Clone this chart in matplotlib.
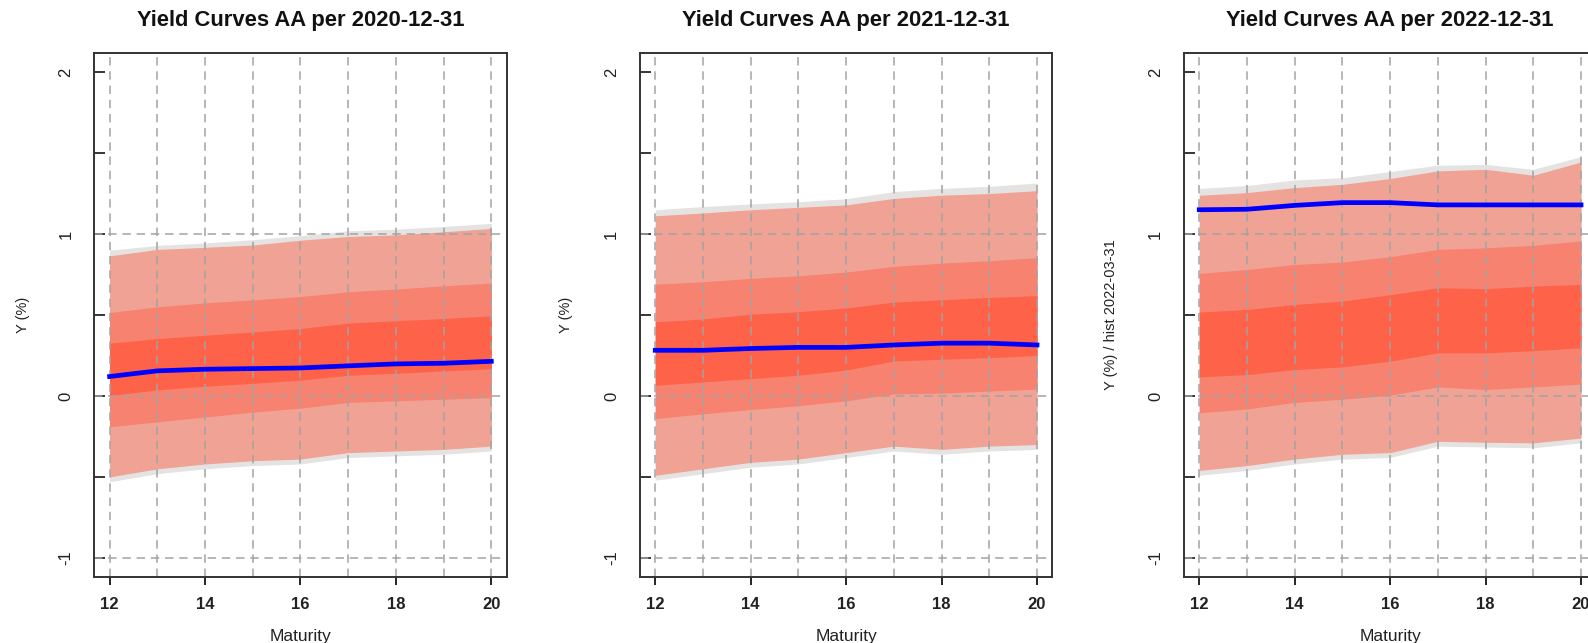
import matplotlib
matplotlib.use("Agg")
import matplotlib.pyplot as plt

plt.rcParams['font.family'] = ['Liberation Sans', 'DejaVu Sans']

maturity = [12, 13, 14, 15, 16, 17, 18, 19, 20]
dates = ["2020-12-31", "2021-12-31", "2022-12-31"]
ylabels = ["Y (%)", "Y (%)", "Y (%) / hist 2022-03-31"]

# Panel 1 (2020-12-31)
p1_gray_hi = [0.90, 0.93, 0.945, 0.965, 0.99, 1.02, 1.03, 1.047, 1.066]
p1_light_hi = [0.865, 0.905, 0.918, 0.932, 0.962, 0.985, 0.995, 1.014, 1.035]
p1_med_hi = [0.515, 0.55, 0.575, 0.593, 0.614, 0.643, 0.66, 0.68, 0.697]
p1_dark_hi = [0.326, 0.354, 0.375, 0.395, 0.416, 0.45, 0.464, 0.478, 0.495]
p1_median = [0.12, 0.155, 0.165, 0.169, 0.173, 0.186, 0.198, 0.202, 0.214]
p1_dark_lo = [0.002, 0.038, 0.06, 0.078, 0.098, 0.128, 0.14, 0.155, 0.169]
p1_med_lo = [-0.19, -0.16, -0.13, -0.10, -0.075, -0.04, -0.03, -0.02, -0.01]
p1_light_lo = [-0.50, -0.45, -0.42, -0.40, -0.39, -0.35, -0.34, -0.33, -0.31]
p1_gray_lo = [-0.53, -0.48, -0.45, -0.43, -0.42, -0.38, -0.37, -0.36, -0.34]

# Panel 2 (2021-12-31)
p2_gray_hi = [1.15, 1.17, 1.186, 1.2, 1.218, 1.262, 1.282, 1.295, 1.315]
p2_light_hi = [1.113, 1.13, 1.15, 1.165, 1.18, 1.22, 1.24, 1.25, 1.268]
p2_med_hi = [0.69, 0.705, 0.726, 0.742, 0.765, 0.8, 0.82, 0.835, 0.854]
p2_dark_hi = [0.458, 0.475, 0.505, 0.52, 0.543, 0.58, 0.594, 0.608, 0.619]
p2_median = [0.282, 0.282, 0.293, 0.3, 0.3, 0.315, 0.326, 0.326, 0.315]
p2_dark_lo = [0.066, 0.087, 0.107, 0.128, 0.16, 0.216, 0.227, 0.237, 0.25]
p2_med_lo = [-0.14, -0.11, -0.084, -0.06, -0.03, 0.013, 0.018, 0.03, 0.043]
p2_light_lo = [-0.49, -0.45, -0.41, -0.39, -0.35, -0.31, -0.33, -0.31, -0.30]
p2_gray_lo = [-0.52, -0.48, -0.44, -0.42, -0.38, -0.34, -0.36, -0.34, -0.33]

# Panel 3 (2022-12-31)
p3_gray_hi = [1.282, 1.3, 1.334, 1.348, 1.386, 1.425, 1.43, 1.4, 1.478]
p3_light_hi = [1.239, 1.256, 1.287, 1.307, 1.343, 1.39, 1.4, 1.363, 1.445]
p3_med_hi = [0.757, 0.781, 0.812, 0.827, 0.86, 0.905, 0.915, 0.93, 0.957]
p3_dark_hi = [0.518, 0.534, 0.565, 0.586, 0.625, 0.668, 0.662, 0.678, 0.689]
p3_median = [1.15, 1.153, 1.177, 1.194, 1.194, 1.18, 1.18, 1.18, 1.18]
p3_dark_lo = [0.118, 0.132, 0.163, 0.18, 0.215, 0.266, 0.266, 0.28, 0.297]
p3_med_lo = [-0.104, -0.08, -0.04, -0.02, 0.005, 0.056, 0.04, 0.056, 0.073]
p3_light_lo = [-0.46, -0.43, -0.39, -0.36, -0.35, -0.28, -0.286, -0.29, -0.26]
p3_gray_lo = [-0.49, -0.46, -0.42, -0.39, -0.38, -0.31, -0.315, -0.32, -0.29]

panels = [
    (p1_gray_hi, p1_light_hi, p1_med_hi, p1_dark_hi, p1_median, p1_dark_lo, p1_med_lo, p1_light_lo, p1_gray_lo),
    (p2_gray_hi, p2_light_hi, p2_med_hi, p2_dark_hi, p2_median, p2_dark_lo, p2_med_lo, p2_light_lo, p2_gray_lo),
    (p3_gray_hi, p3_light_hi, p3_med_hi, p3_dark_hi, p3_median, p3_dark_lo, p3_med_lo, p3_light_lo, p3_gray_lo),
]

xticks = [12, 14, 16, 18, 20]
yticks_major = [-1, 0, 1, 2]
yticks_minor = [-0.5, 0.5, 1.5]

c_gray = '#E5E3E2'
c_light = '#F0A294'
c_med = '#F6826F'
c_dark = '#FE6249'
c_grid = '#A3A3A3'

W, H = 1588, 643
fig = plt.figure(figsize=(W / 100, H / 100), dpi=100)

lefts = [94.3, 640.0, 1184.0]
ax_w = 412.3
ax_top = 52.7
ax_bot = 577.3
ylab_x = [23, 566, 1111]

for i, (left, data) in enumerate(zip(lefts, panels)):
    g_hi, l_hi, m_hi, d_hi, med, d_lo, m_lo, l_lo, g_lo = data
    ax = fig.add_axes([left / W, 1 - ax_bot / H, ax_w / W, (ax_bot - ax_top) / H])
    ax.fill_between(maturity, g_lo, g_hi, color=c_gray, lw=0, zorder=1)
    ax.fill_between(maturity, l_lo, l_hi, color=c_light, lw=0, zorder=2)
    ax.fill_between(maturity, m_lo, m_hi, color=c_med, lw=0, zorder=3)
    ax.fill_between(maturity, d_lo, d_hi, color=c_dark, lw=0, zorder=4)
    for xv in range(12, 21):
        ax.axvline(xv, color=c_grid, lw=1.1, ls=(0, (5.5, 3.8)), zorder=5)
    for yv in [-1, 0, 1]:
        ax.axhline(yv, color=c_grid, lw=1.1, ls=(0, (5.5, 3.8)), zorder=5)
    ax.plot(maturity, med, color='#0000FF', lw=3.4, solid_capstyle='projecting', zorder=6)

    ax.set_xlim(11.68, 20.32)
    ax.set_ylim(-1.12, 2.12)
    ax.set_xticks(xticks)
    ax.set_xticklabels([str(t) for t in xticks], fontsize=12, fontweight='bold', color='#222222')
    ax.set_yticks(yticks_major)
    ax.set_yticklabels([str(t) for t in yticks_major], fontsize=12, rotation=90, va='center', color='#222222')
    ax.set_yticks(yticks_minor, minor=True)
    ax.tick_params(axis='x', direction='out', length=6, width=1.2, pad=8)
    ax.tick_params(axis='y', which='both', direction='in', length=8, width=1.1, pad=15)
    for s in ax.spines.values():
        s.set_linewidth(1.4)
        s.set_color('#333333')
        s.set_zorder(7)

    cx = left + ax_w / 2
    fig.text(cx / W, 1 - 20.5 / H, "Yield Curves AA per " + dates[i], ha='center', va='center',
             fontsize=15.8, fontweight='bold', color='#111111')
    fig.text(cx / W, 1 - 636 / H, "Maturity", ha='center', va='center', fontsize=12.5, color='#222222')
    fig.text(ylab_x[i] / W, 1 - 315 / H, ylabels[i], ha='center', va='center', rotation=90,
             fontsize=10.5, color='#222222')

fig.savefig("out.png", dpi=100)
